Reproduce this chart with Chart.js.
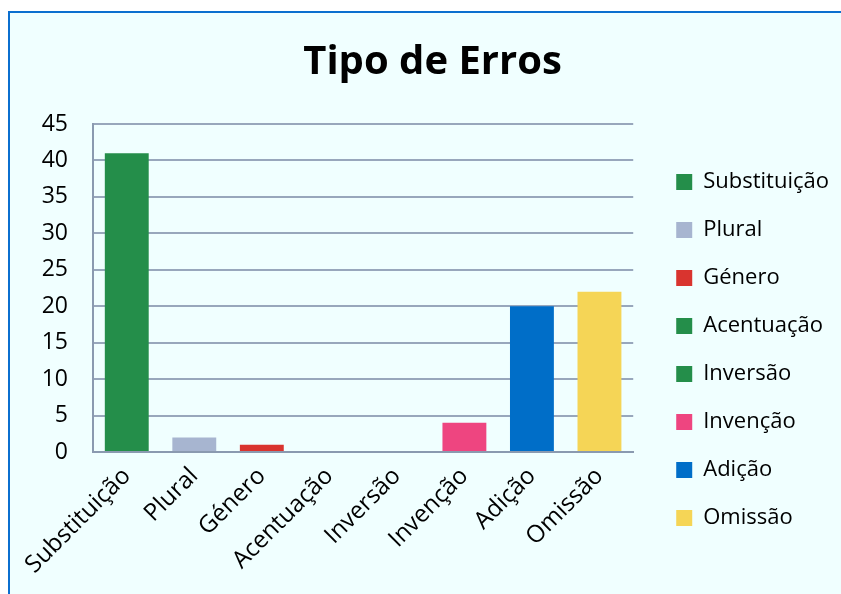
<!DOCTYPE html>
<html lang="pt">
<head>
    <meta charset="UTF-8">
    <title>Tipo de Erros</title>
    <script src="https://cdn.jsdelivr.net/npm/chart.js"></script>
    <style>
        html, body { margin: 0; padding: 0; background: #ffffff; overflow: hidden; }
        .moldura {
            position: absolute; left: 8px; top: 11px; right: -20px; bottom: -20px;
            border-top: 2px solid #0b6fcf; border-left: 2px solid #0b6fcf;
            background: #f0ffff;
        }
        #grafico { position: absolute; left: 0; top: 0; }
    </style>
</head>
<body>
    <div class="moldura"></div>
    <canvas id="grafico" width="865" height="594" style="width:865px;height:594px"></canvas>

    <script>
        const categorias = ['Substituição', 'Plural', 'Género', 'Acentuação', 'Inversão', 'Invenção', 'Adição', 'Omissão'];
        const valores = [41, 2, 1, 0, 0, 4, 20, 22];
        const cores = ['#248e4a', '#a7b5d0', '#d9342f', '#248e4a', '#248e4a', '#ee4580', '#006ec8', '#f5d556'];
        const yTicks = [0, 5, 10, 15, 20, 25, 30, 35, 40, 45];

        const fonte = "'Open Sans', sans-serif";

        const ctx = document.getElementById('grafico').getContext('2d');
        new Chart(ctx, {
            type: 'bar',
            data: {
                labels: categorias,
                datasets: [{
                    label: 'Tipo de Erros',
                    data: valores,
                    backgroundColor: cores,
                    borderWidth: 0,
                    barPercentage: 0.65,
                    categoryPercentage: 1
                }]
            },
            options: {
                responsive: false,
                animation: false,
                layout: { padding: { left: 26, right: 26, top: 0, bottom: 0 } },
                plugins: {
                    title: {
                        display: true,
                        text: 'Tipo de Erros',
                        color: '#000000',
                        font: { family: fonte, size: 40, weight: 'bold', lineHeight: 1.2 },
                        padding: { top: 39, bottom: 37 }
                    },
                    legend: {
                        position: 'right',
                        align: 'start',
                        maxWidth: 300,
                        // empty title only pushes the items down
                        title: { display: true, text: ' ', font: { size: 12, lineHeight: 1 }, padding: { top: 0, bottom: 133 } },
                        labels: {
                            boxWidth: 16,
                            boxHeight: 16,
                            padding: 26,
                            color: '#000000',
                            font: { family: fonte, size: 22 },
                            generateLabels: chart => categorias.map((c, i) => ({
                                text: c,
                                fillStyle: cores[i],
                                strokeStyle: cores[i],
                                fontColor: '#000000',
                                lineWidth: 0,
                                hidden: false,
                                index: i
                            }))
                        }
                    },
                    tooltip: { enabled: false }
                },
                scales: {
                    x: {
                        grid: { display: false },
                        border: { display: true, color: '#8a9ab0', width: 2 },
                        ticks: {
                            color: '#000000',
                            font: { family: fonte, size: 24 },
                            minRotation: 45,
                            maxRotation: 45,
                            autoSkip: false,
                            padding: 2
                        },
                        afterFit: s => { s.height = 142; }
                    },
                    y: {
                        min: 0,
                        max: 45,
                        afterBuildTicks: s => { s.ticks = yTicks.map(v => ({ value: v })); },
                        grid: { color: '#98a7bc', lineWidth: 2, drawTicks: false },
                        border: { display: true, color: '#8a9ab0', width: 2 },
                        ticks: {
                            color: '#000000',
                            font: { family: fonte, size: 23 },
                            padding: 25
                        },
                        afterFit: s => { s.width = 67; }
                    },
                    // spacer between the plot and the legend
                    gap: {
                        type: 'linear',
                        position: 'right',
                        grid: { display: false },
                        border: { display: false },
                        ticks: { display: false },
                        afterFit: s => { s.width = 17; }
                    }
                }
            }
        });
    </script>
</body>
</html>
